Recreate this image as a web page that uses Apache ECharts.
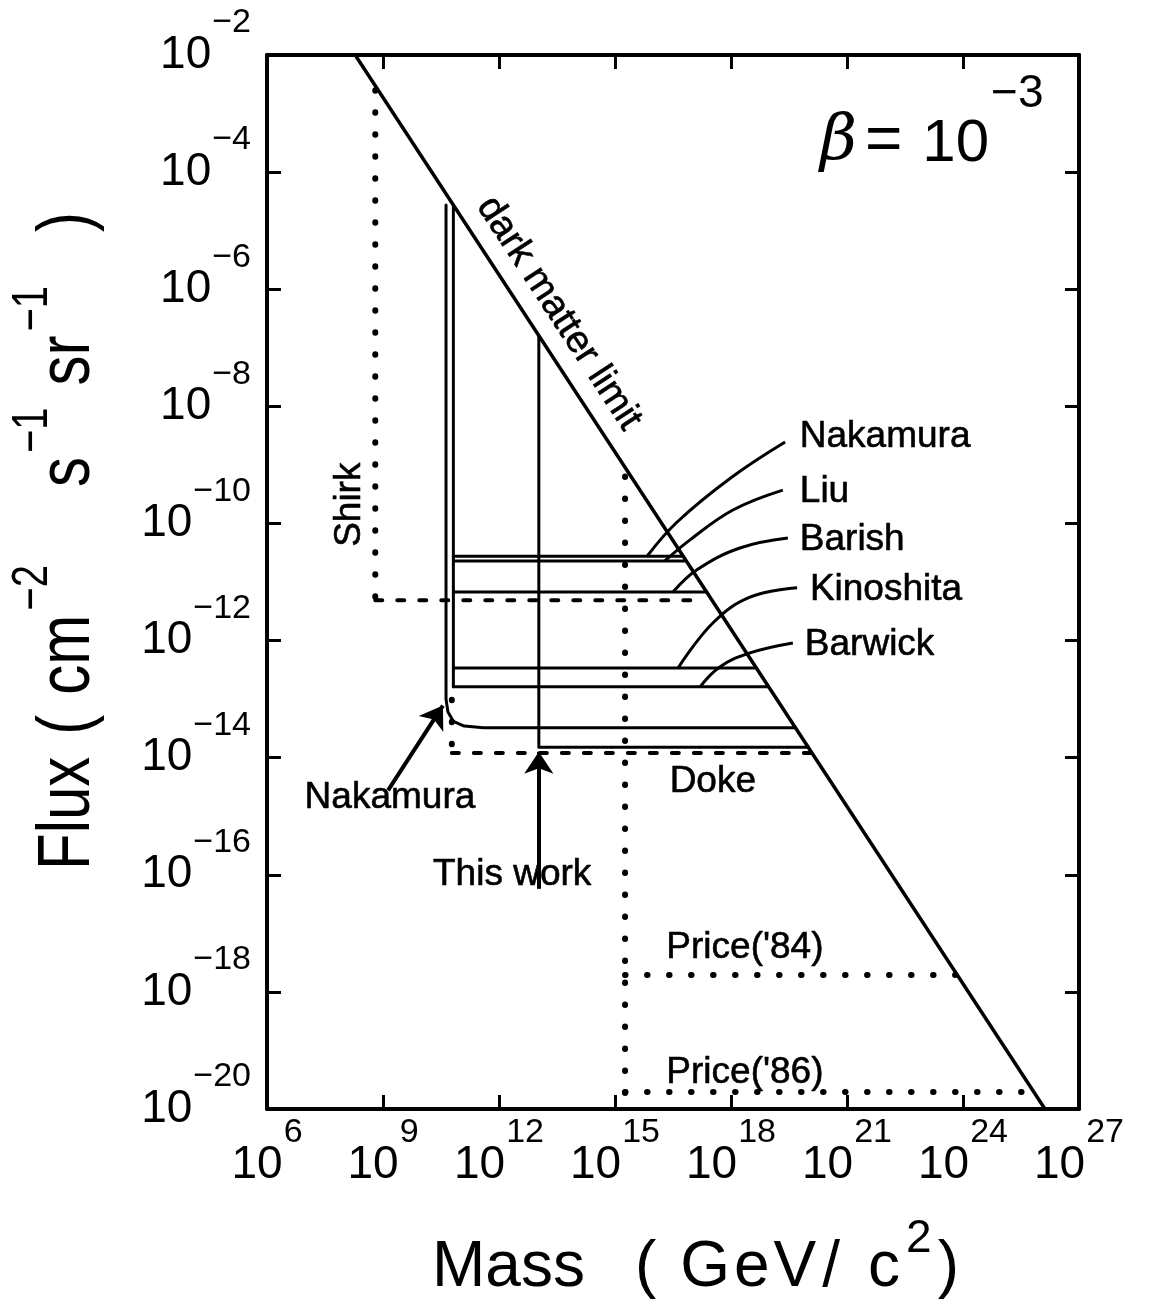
<!DOCTYPE html>
<html><head><meta charset="utf-8">
<script src="https://cdn.jsdelivr.net/npm/echarts@6/dist/echarts.min.js"></script>
<style>html,body{margin:0;padding:0;background:#fff}#c{width:1149px;height:1311px}</style>
</head><body><div id="c"></div>
<script>
// All values are log10: x = log10(Mass / GeV c^-2), y = log10(Flux / cm^-2 s^-1 sr^-1)
const massRange = [6, 27];
const fluxRange = [-20, -2];
const darkMatterLimit = [[8.28, -2], [26.12, -20]];
const shirkVertical = [[8.8, -2.6], [8.8, -11.31]];
const shirkHorizontal = [[8.8, -11.31], [17.25, -11.31]];
const nakamuraLow = [[10.63, -4.56], [10.63, -13.0], [10.68, -13.22], [10.82, -13.38], [11.1, -13.46], [11.6, -13.49], [19.67, -13.49]];
const sharedEdge = [[10.82, -4.56], [10.82, -12.79]];
const nakamuraHigh = [[10.82, -10.56], [16.76, -10.56]];
const liu = [[10.82, -10.64], [16.84, -10.64]];
const barish = [[10.82, -11.17], [17.37, -11.17]];
const kinoshita = [[10.82, -12.47], [18.66, -12.47]];
const barwick = [[10.82, -12.79], [18.97, -12.79]];
const thisWork = [[13.03, -6.79], [13.03, -13.82], [20.0, -13.82]];
const dokeVertical = [[10.78, -13.01], [10.78, -13.92]];
const dokeHorizontal = [[10.78, -13.92], [20.05, -13.92]];
const priceVertical = [[15.26, -9.2], [15.26, -19.95]];
const price84 = [[15.26, -17.71], [23.8, -17.71]];
const price86 = [[15.26, -19.71], [25.8, -19.71]];
const nakamuraLead = [[19.40, -8.61], [18.0, -9.22], [16.6, -9.98], [15.83, -10.56]];
const liuLead = [[19.34, -9.43], [18.05, -9.77], [16.94, -10.28], [16.29, -10.64]];
const barishLead = [[19.47, -10.25], [18.23, -10.42], [17.12, -10.79], [16.50, -11.17]];
const kinoshitaLead = [[19.71, -11.10], [18.49, -11.26], [17.53, -11.70], [16.63, -12.47]];
const barwickLead = [[19.60, -12.04], [18.49, -12.21], [17.71, -12.45], [17.20, -12.79]];
const nakamuraArrow = [[9.13, -14.56], [10.55, -13.11]];
const thisWorkArrow = [[13.03, -16.24], [13.03, -13.9]];
const labelNames = ['Nakamura', 'Liu', 'Barish', 'Kinoshita', 'Barwick', 'Nakamura', 'This work', 'Doke', "Price('84)", "Price('86)", 'Shirk', 'dark matter limit'];
const labelAnchors = [[19.78, -8.52], [19.78, -9.46], [19.78, -10.28], [20.04, -11.14], [19.91, -12.08], [9.18, -14.69], [12.34, -16.0], [17.53, -14.41], [18.36, -17.25], [18.36, -19.38], [8.15, -9.68], [13.55, -6.41]];

const FONT = '"Liberation Sans", Arial, Helvetica, sans-serif';
const chart = echarts.init(document.getElementById('c'), null, {renderer: 'canvas'});

function solid(data, w) {
  return {type: 'line', data: data, symbol: 'none', silent: true, animation: false, z: 3,
    lineStyle: {color: '#000', width: w || 3, cap: 'round', join: 'round'}};
}
function dotted(data) {
  return {type: 'line', data: data, symbol: 'none', silent: true, animation: false, z: 2,
    lineStyle: {color: '#000', width: 6, type: [0.5, 21.5], cap: 'round'}};
}
function dashed(data) {
  return {type: 'line', data: data, symbol: 'none', silent: true, animation: false, z: 2,
    lineStyle: {color: '#000', width: 4, type: [7, 15], cap: 'round'}};
}
function lead(data) {
  return {type: 'line', data: data, symbol: 'none', smooth: 0.4, silent: true, animation: false, z: 3,
    lineStyle: {color: '#000', width: 3}};
}

const tickRich = {
  b: {fontSize: 46, fontFamily: FONT, color: '#000', verticalAlign: 'bottom', lineHeight: 98, padding: [26, 0, 26, 0]},
  s: {fontSize: 34, fontFamily: FONT, color: '#000', verticalAlign: 'bottom', lineHeight: 98, padding: [0, 0, 64, 1]}
};

const labelData = labelNames.map((n, i) => {
  const d = {name: n, value: labelAnchors[i], label: {}};
  if (i <= 4) d.label.align = 'left';
  if (n === 'Shirk') d.label.rotate = 90;
  if (n === 'dark matter limit') { d.label.rotate = -56.8; d.label.fontSize = 38; }
  return d;
});

const option = {
  animation: false,
  backgroundColor: '#fff',
  grid: {left: 267, top: 55, width: 812, height: 1054, containLabel: false, outerBoundsMode: 'none'},
  xAxis: [
    {type: 'value', min: massRange[0], max: massRange[1], interval: 3, position: 'bottom',
      axisLine: {onZero: false, lineStyle: {color: '#000', width: 4}},
      axisTick: {inside: true, length: 14, lineStyle: {color: '#000', width: 3}},
      splitLine: {show: false},
      axisLabel: {margin: 7, formatter: v => '{b|10}{s|' + v + '}', rich: tickRich, color: '#000'}},
    {type: 'value', min: massRange[0], max: massRange[1], interval: 3, position: 'top',
      axisLine: {onZero: false, lineStyle: {color: '#000', width: 4}},
      axisTick: {inside: true, length: 14, lineStyle: {color: '#000', width: 3}},
      splitLine: {show: false}, axisLabel: {show: false}}
  ],
  yAxis: [
    {type: 'value', min: fluxRange[0], max: fluxRange[1], interval: 2, position: 'left',
      axisLine: {onZero: false, lineStyle: {color: '#000', width: 4}},
      axisTick: {inside: true, length: 14, lineStyle: {color: '#000', width: 3}},
      splitLine: {show: false},
      axisLabel: {margin: 16, align: 'right', formatter: v => '{b|10}{s|\u2212' + Math.abs(v) + '}', rich: tickRich, color: '#000'}},
    {type: 'value', min: fluxRange[0], max: fluxRange[1], interval: 2, position: 'right',
      axisLine: {onZero: false, lineStyle: {color: '#000', width: 4}},
      axisTick: {inside: true, length: 14, lineStyle: {color: '#000', width: 3}},
      splitLine: {show: false}, axisLabel: {show: false}}
  ],
  series: [
    solid(darkMatterLimit, 3.5),
    dotted(shirkVertical),
    dashed(shirkHorizontal),
    solid(nakamuraLow),
    solid(sharedEdge),
    solid(nakamuraHigh),
    solid(liu),
    solid(barish),
    solid(kinoshita),
    solid(barwick),
    solid(thisWork),
    dotted(dokeVertical),
    dashed(dokeHorizontal),
    dotted(priceVertical),
    dotted(price84),
    dotted(price86),
    lead(nakamuraLead), lead(liuLead), lead(barishLead), lead(kinoshitaLead), lead(barwickLead),
    {type: 'lines', coordinateSystem: 'cartesian2d', silent: true, animation: false, z: 4,
      symbol: ['none', 'arrow'], symbolSize: [14, 22],
      lineStyle: {color: '#000', width: 4, opacity: 1},
      data: [{coords: nakamuraArrow}, {coords: thisWorkArrow}]},
    {type: 'scatter', symbolSize: 0, silent: true, animation: false, z: 5,
      itemStyle: {opacity: 1},
      label: {show: true, position: 'inside', formatter: '{b}', color: '#000', opacity: 1, fontSize: 37, fontFamily: FONT,
        textBorderColor: '#000', textBorderWidth: 0.6},
      data: labelData},
    {type: 'scatter', symbolSize: 0, silent: true, animation: false, z: 5,
      itemStyle: {opacity: 1},
      label: {show: true, position: 'inside', align: 'left', opacity: 1, formatter: '{g|\u03b2}{e|=}{b|10}{s|\u22123}',
        rich: {
          g: {fontSize: 64, fontStyle: 'italic', fontFamily: '"DejaVu Serif", serif', color: '#000', verticalAlign: 'bottom', lineHeight: 64},
          e: {fontSize: 64, fontFamily: FONT, color: '#000', verticalAlign: 'bottom', lineHeight: 64, padding: [0, 0, 0, 8]},
          b: {fontSize: 60, fontFamily: FONT, color: '#000', verticalAlign: 'bottom', lineHeight: 60, padding: [0, 0, 0, 20]},
          s: {fontSize: 46, fontFamily: FONT, color: '#000', verticalAlign: 'bottom', lineHeight: 46, padding: [0, 0, 58, 2]}
        }},
      data: [{name: 'beta', value: [20.3, -3.5]}]}
  ],
  graphic: [
    {type: 'text', x: 68, y: 870, rotation: Math.PI / 2, scaleY: 1.25, silent: true,
      style: {text: '{t|Flux}{p|(}{t2|cm}{s|\u22122}{t3|s}{s|\u22121}{t4|sr}{s|\u22121}{p2|)}',
        align: 'left', verticalAlign: 'middle',
        rich: {
          t: {fontSize: 60, fontFamily: FONT, fill: '#000', verticalAlign: 'bottom', lineHeight: 60},
          p: {fontSize: 60, fontFamily: FONT, fill: '#000', verticalAlign: 'bottom', lineHeight: 60, padding: [0, 0, 0, 22]},
          t2: {fontSize: 60, fontFamily: FONT, fill: '#000', verticalAlign: 'bottom', lineHeight: 60, padding: [0, 0, 0, 20]},
          t3: {fontSize: 60, fontFamily: FONT, fill: '#000', verticalAlign: 'bottom', lineHeight: 60, padding: [0, 0, 0, 78]},
          t4: {fontSize: 60, fontFamily: FONT, fill: '#000', verticalAlign: 'bottom', lineHeight: 60, padding: [0, 0, 0, 22]},
          p2: {fontSize: 60, fontFamily: FONT, fill: '#000', verticalAlign: 'bottom', lineHeight: 60, padding: [0, 0, 0, 54]},
          s: {fontSize: 40, fontFamily: FONT, fill: '#000', verticalAlign: 'bottom', lineHeight: 40, padding: [0, 0, 38, 4]}
        }}},
    {type: 'text', x: 432, y: 1268, silent: true,
      style: {text: '{t|Mass}{p|(}{g|G}{e|e}{v|V}{sl|/}{c|c}{s|2}{q|)}', align: 'left', verticalAlign: 'middle',
        rich: {
          t: {fontSize: 64, fontFamily: FONT, fill: '#000', verticalAlign: 'bottom', lineHeight: 64},
          p: {fontSize: 64, fontFamily: FONT, fill: '#000', verticalAlign: 'bottom', lineHeight: 64, padding: [0, 0, 0, 50]},
          g: {fontSize: 64, fontFamily: FONT, fill: '#000', verticalAlign: 'bottom', lineHeight: 64, padding: [0, 0, 0, 24]},
          e: {fontSize: 64, fontFamily: FONT, fill: '#000', verticalAlign: 'bottom', lineHeight: 64, padding: [0, 0, 0, 4]},
          v: {fontSize: 64, fontFamily: FONT, fill: '#000', verticalAlign: 'bottom', lineHeight: 64, padding: [0, 0, 0, 4]},
          sl: {fontSize: 64, fontFamily: FONT, fill: '#000', verticalAlign: 'bottom', lineHeight: 64, padding: [0, 0, 0, 6]},
          c: {fontSize: 64, fontFamily: FONT, fill: '#000', verticalAlign: 'bottom', lineHeight: 64, padding: [0, 0, 0, 28]},
          q: {fontSize: 64, fontFamily: FONT, fill: '#000', verticalAlign: 'bottom', lineHeight: 64, padding: [0, 0, 0, 6]},
          s: {fontSize: 46, fontFamily: FONT, fill: '#000', verticalAlign: 'bottom', lineHeight: 46, padding: [0, 0, 38, 6]}
        }}}
  ]
};
chart.setOption(option);
</script></body></html>
